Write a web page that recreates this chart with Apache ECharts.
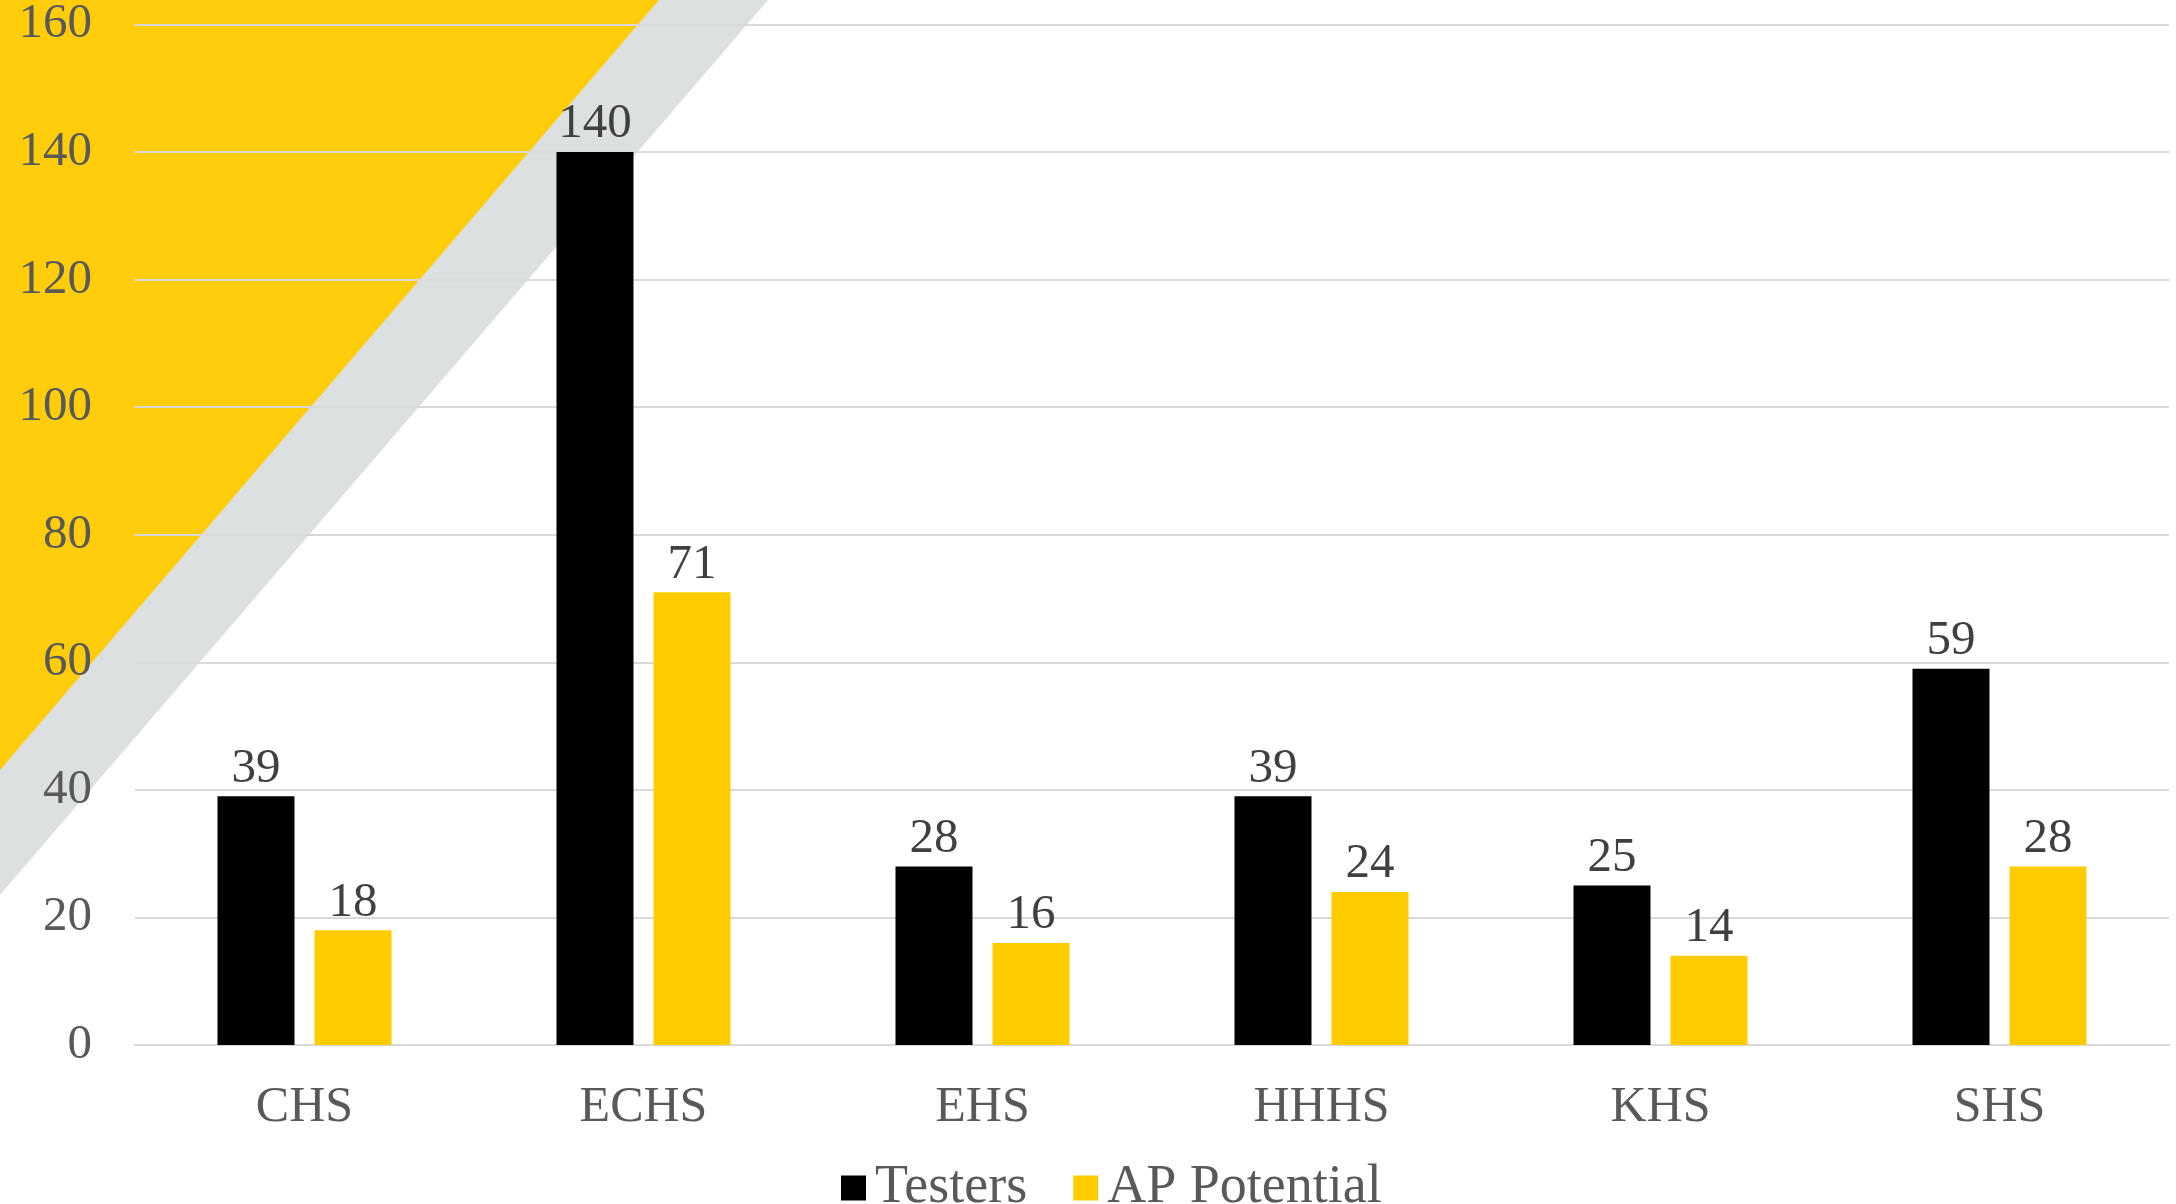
<!DOCTYPE html>
<html>
<head>
<meta charset="utf-8">
<script src="https://cdn.jsdelivr.net/npm/echarts@6/dist/echarts.min.js"></script>
<style>
  html, body { margin: 0; padding: 0; background: #fff; }
  #chart { width: 2176px; height: 1204px; }
</style>
</head>
<body>
<div id="chart"></div>
<script>
var schools = ['CHS', 'ECHS', 'EHS', 'HHHS', 'KHS', 'SHS'];
var testers = [39, 140, 28, 39, 25, 59];
var apPotential = [18, 71, 16, 24, 14, 28];
var yTicks = { min: 0, max: 160, step: 20 };

var serif = '"Liberation Serif", "DejaVu Serif", serif';

var myChart = echarts.init(document.getElementById('chart'));
var option = {
  backgroundColor: '#ffffff',
  animation: false,
  color: ['#000000', '#FFCC00'],
  // corner decoration behind the plot
  graphic: [
    {
      type: 'polygon', z: -10, silent: true,
      shape: { points: [[0, 0], [768, 0], [0, 895]] },
      style: { fill: '#DDE0E1' }
    },
    {
      type: 'polygon', z: -9, silent: true,
      shape: { points: [[0, 0], [659, 0], [0, 770]] },
      style: { fill: '#FFCD0C' }
    }
  ],
  grid: { left: 135, right: 7, top: 23, bottom: 159, containLabel: false },
  legend: {
    data: ['Testers', 'AP Potential'],
    left: 836,
    top: 1156,
    itemWidth: 25,
    itemHeight: 25,
    itemGap: 46,
    icon: 'rect',
    textStyle: { fontFamily: serif, fontSize: 54, color: '#595959', padding: [0, 0, 0, 4] }
  },
  xAxis: {
    type: 'category',
    data: schools,
    axisLine: { show: true, lineStyle: { color: '#D9D9D9', width: 2 } },
    axisTick: { show: false },
    axisLabel: { margin: 38, fontFamily: serif, fontSize: 50, color: '#595959' }
  },
  yAxis: {
    type: 'value',
    min: yTicks.min,
    max: yTicks.max,
    interval: yTicks.step,
    axisLine: { show: false },
    axisTick: { show: false },
    splitLine: { lineStyle: { color: '#D9D9D9', width: 2 } },
    axisLabel: { margin: 43, fontFamily: serif, fontSize: 49, color: '#595959' }
  },
  series: [
    {
      name: 'Testers',
      type: 'bar',
      data: testers,
      barWidth: 77,
      barGap: '26%',
      label: { show: true, position: 'top', distance: 3, fontFamily: serif, fontSize: 49, color: '#404040' }
    },
    {
      name: 'AP Potential',
      type: 'bar',
      data: apPotential,
      barWidth: 77,
      label: { show: true, position: 'top', distance: 3, fontFamily: serif, fontSize: 49, color: '#404040' }
    }
  ]
};
myChart.setOption(option);
</script>
</body>
</html>
